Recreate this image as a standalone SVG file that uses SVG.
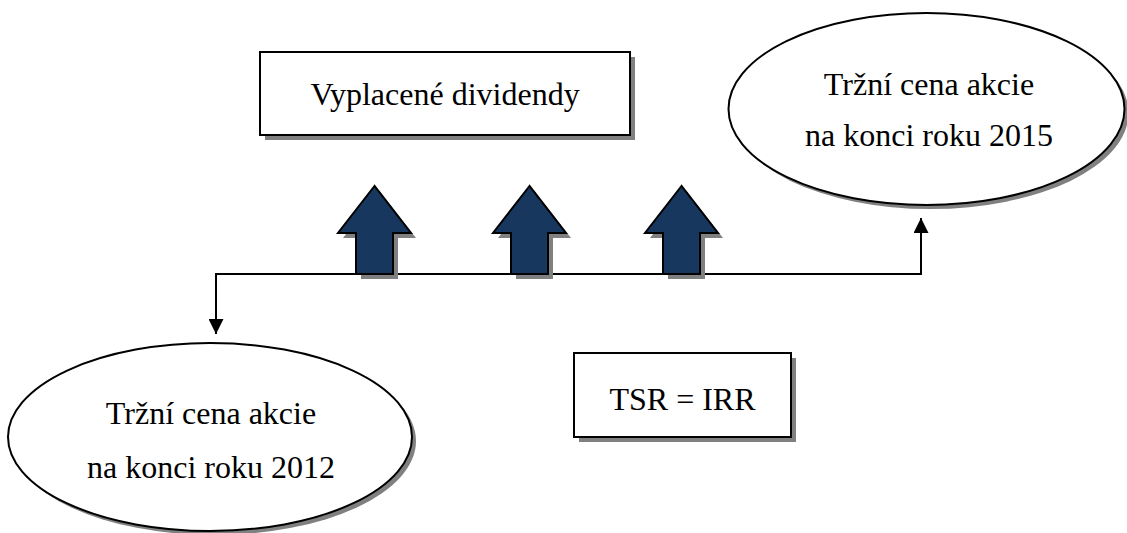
<svg xmlns="http://www.w3.org/2000/svg" xmlns:xlink="http://www.w3.org/1999/xlink" width="1127" height="533" viewBox="0 0 1127 533">
<style>
.shadow{fill:#808080;stroke:none}
.shape{fill:#ffffff;stroke:#000000;stroke-width:2}
.arrow{fill:#17375E;stroke:#000000;stroke-width:2;stroke-linejoin:miter}
.conn{fill:none;stroke:#000000;stroke-width:2}
.lbl{font-family:"Liberation Serif","Times New Roman",serif;font-size:32px;fill:#000000;text-anchor:middle}
</style>
<defs>
<polygon id="uparrow" points="0,0 -36.5,47 -18.5,47 -18.5,88 18.5,88 18.5,47 36.5,47"/>
<marker id="head" markerWidth="15" markerHeight="15" viewBox="0 0 15 15" refX="15" refY="7.5" orient="auto" markerUnits="userSpaceOnUse">
<path d="M0,0 L15,7.5 L0,15 Z" fill="#000000"/>
</marker>
</defs>
<rect width="1127" height="533" fill="#ffffff"/>
<g id="connectors">
<path class="conn" d="M921,274 L216,274 L216,334" marker-end="url(#head)"/>
<path class="conn" d="M900,274 L921,274 L921,218" marker-end="url(#head)"/>
</g>
<g id="box-dividendy">
<rect class="shadow" x="265" y="57" width="370" height="83"/>
<rect class="shape" x="260" y="52" width="370" height="83"/>
<text class="lbl" x="445" y="105">Vyplacené dividendy</text>
</g>
<g id="ellipse-2015">
<ellipse class="shadow" cx="930.5" cy="113" rx="198" ry="96"/>
<ellipse class="shape" cx="926.5" cy="109" rx="198" ry="96"/>
<text class="lbl" x="929" y="95">Tržní cena akcie</text>
<text class="lbl" x="929" y="146">na konci roku 2015</text>
</g>
<g id="arrow-1">
<use href="#uparrow" xlink:href="#uparrow" class="shadow" x="379.5" y="191"/>
<use href="#uparrow" xlink:href="#uparrow" class="arrow" x="374.5" y="186"/>
</g>
<g id="arrow-2">
<use href="#uparrow" xlink:href="#uparrow" class="shadow" x="534.5" y="191"/>
<use href="#uparrow" xlink:href="#uparrow" class="arrow" x="529.5" y="186"/>
</g>
<g id="arrow-3">
<use href="#uparrow" xlink:href="#uparrow" class="shadow" x="686.5" y="191"/>
<use href="#uparrow" xlink:href="#uparrow" class="arrow" x="681.5" y="186"/>
</g>
<g id="ellipse-2012">
<ellipse class="shadow" cx="214" cy="441" rx="202" ry="94"/>
<ellipse class="shape" cx="210" cy="437" rx="202" ry="94"/>
<text class="lbl" x="211" y="424">Tržní cena akcie</text>
<text class="lbl" x="211" y="478">na konci roku 2012</text>
</g>
<g id="box-tsr">
<rect class="shadow" x="579" y="358" width="217" height="84"/>
<rect class="shape" x="574" y="353" width="217" height="84"/>
<text class="lbl" x="682.5" y="410">TSR = IRR</text>
</g>
</svg>
